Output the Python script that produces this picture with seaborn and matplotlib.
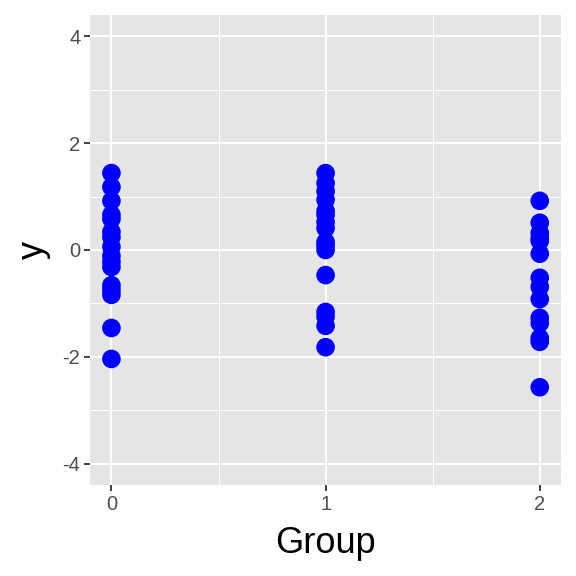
import matplotlib
matplotlib.use("Agg")
import matplotlib.pyplot as plt
import seaborn as sns
import pandas as pd
import numpy as np

group0 = [1.44, 1.18, 0.92, 0.66, 0.58, 0.34, 0.24, 0.06, -0.11, -0.22, -0.32,
          -0.66, -0.75, -0.84, -1.46, -2.04]
group1 = [1.44, 1.25, 1.10, 0.94, 0.73, 0.66, 0.52, 0.41, 0.15, 0.09, 0.00,
          -0.47, -1.16, -1.25, -1.42, -1.82]
group2 = [0.92, 0.51, 0.32, 0.22, 0.17, -0.07, -0.52, -0.69, -0.92, -1.27,
          -1.37, -1.65, -1.72, -2.57]
x_ticks = [0, 1, 2]
y_ticks = [-4, -2, 0, 2, 4]

df = pd.DataFrame({
    "Group": [0] * len(group0) + [1] * len(group1) + [2] * len(group2),
    "y": group0 + group1 + group2,
})

sns.set_theme(style="darkgrid", rc={
    "axes.facecolor": "#E5E5E5",
    "grid.color": "white",
})
plt.rcParams["font.family"] = ["Liberation Sans", "DejaVu Sans"]

fig = plt.figure(figsize=(5.76, 5.76), dpi=100)
ax = fig.add_axes([0.15625, 0.158, 0.818, 0.816])
sns.scatterplot(data=df, x="Group", y="y", color="#0000FF", s=180,
                edgecolor="none", linewidth=0, ax=ax, zorder=3)

ax.set_xlim(-0.1, 2.1)
ax.set_ylim(-4.4, 4.4)
ax.set_xticks(x_ticks)
ax.set_xticklabels([str(v) for v in x_ticks])
ax.set_yticks(y_ticks)
ax.set_yticklabels([str(v) for v in y_ticks])
ax.set_xticks([0.5, 1.5], minor=True)
ax.set_yticks([-3, -1, 1, 3], minor=True)
ax.grid(which="major", color="white", linewidth=1.5)
ax.grid(which="minor", color="white", linewidth=0.75)
ax.set_axisbelow(True)
for sp in ax.spines.values():
    sp.set_visible(False)
ax.tick_params(axis="both", which="major", length=4, width=1.3, color="#333333",
               labelsize=14.5, labelcolor="#4D4D4D", pad=3, bottom=True, left=True)
ax.tick_params(axis="both", which="minor", length=0)
ax.set_xlabel("Group", fontsize=26, color="black", labelpad=9)
ax.set_ylabel("y", fontsize=26, color="black", labelpad=8)

fig.savefig("out.png", dpi=100)
